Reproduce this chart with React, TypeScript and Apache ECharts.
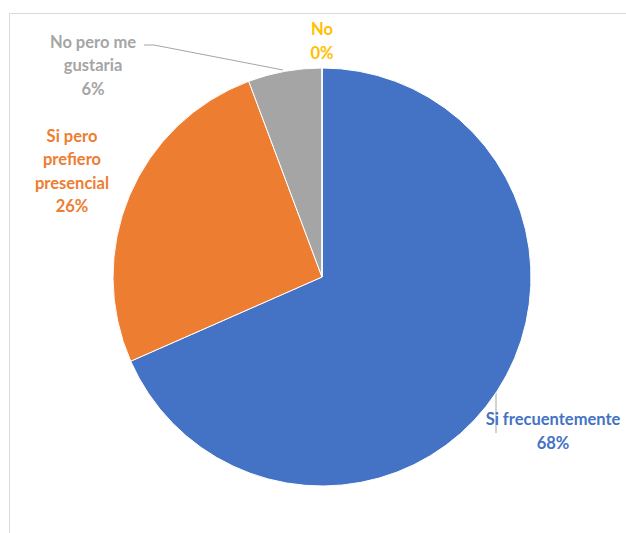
import React, { useEffect, useRef } from "react";
import * as echarts from "echarts";

const categories = ["Si frecuentemente", "Si pero\nprefiero\npresencial", "No pero me\ngustaria", "No"];
const shares = [68.4, 25.9, 5.7, 0];
const colors = ["#4472C4", "#ED7D31", "#A5A5A5", "#FFC000"];

// label anchor positions (layout only)
const labelPos: [number, number][] = [
  [553, 431],
  [72, 171],
  [93, 65],
  [322, 41],
];
const linePoints: ([number, number][] | null)[] = [
  [[496, 393], [496, 413], [496, 433]],
  null,
  [[283, 70], [154, 45], [144, 45]],
  null,
];

export default function App() {
  const ref = useRef<HTMLDivElement>(null);
  useEffect(() => {
    if (!ref.current) return;
    const chart = echarts.init(ref.current, undefined, { renderer: "svg" });
    const total = shares.reduce((a, b) => a + b, 0);
    chart.setOption({
      animation: false,
      backgroundColor: "#ffffff",
      graphic: [
        {
          type: "rect",
          shape: { x: 9.5, y: 13.5, width: 700, height: 600 },
          style: { fill: "none", stroke: "#D9D9D9", lineWidth: 1 },
          silent: true,
        },
      ],
      series: [
        {
          type: "pie",
          center: [322, 277],
          radius: [0, 209],
          startAngle: 90,
          clockwise: true,
          minAngle: 0,
          avoidLabelOverlap: false,
          itemStyle: { borderColor: "#ffffff", borderWidth: 1 },
          label: {
            show: true,
            position: "outside",
            fontFamily: "Lato",
            fontWeight: "bold",
            fontSize: 16.5,
            lineHeight: 23.5,
            align: "center",
            formatter: (p: any) => `${p.name}\n${Math.round((p.value / total) * 100)}%`,
          },
          labelLine: {
            show: true,
            lineStyle: { color: "#A5A5A5", width: 1 },
          },
          labelLayout: (params: any) => {
            const i = params.dataIndex;
            const out: any = {
              x: labelPos[i][0],
              y: labelPos[i][1],
              align: "center",
              verticalAlign: "middle",
            };
            if (linePoints[i]) out.labelLinePoints = linePoints[i];
            return out;
          },
          data: categories.map((name, i) => ({
            name,
            value: shares[i],
            itemStyle: { color: colors[i] },
            label: { color: colors[i] },
            labelLine: { show: linePoints[i] !== null },
          })),
        },
      ],
    });
    return () => chart.dispose();
  }, []);
  return (
    <div
      ref={ref}
      style={{ position: "fixed", left: 0, top: 0, width: 626, height: 533 }}
    />
  );
}
